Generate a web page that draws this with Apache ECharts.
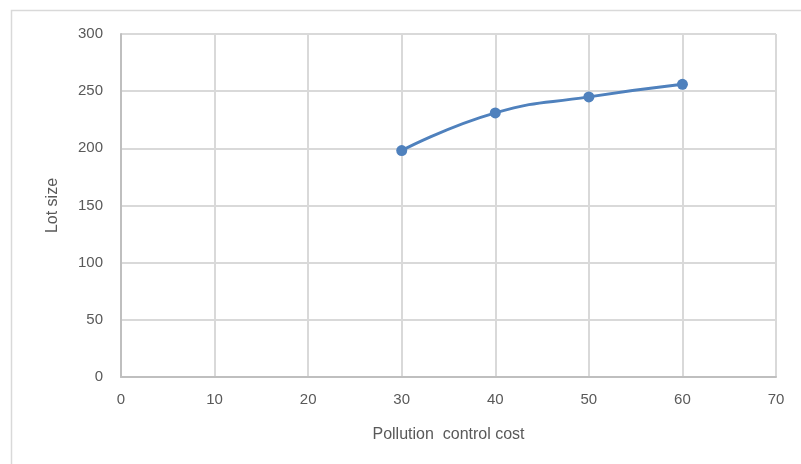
<!DOCTYPE html>
<html>
<head>
<meta charset="utf-8">
<script src="https://cdn.jsdelivr.net/npm/echarts@6/dist/echarts.min.js"></script>
<style>
  html, body { margin: 0; padding: 0; background: #fff; }
  #chart { width: 801px; height: 464px; }
</style>
</head>
<body>
<div id="chart"></div>
<script>
// Pollution control cost vs. lot size
const costs = [30, 40, 50, 60];
const lotSizes = [198, 231, 245, 256];
const xTicks = [0, 10, 20, 30, 40, 50, 60, 70];
const yTicks = [0, 50, 100, 150, 200, 250, 300];

const chart = echarts.init(document.getElementById('chart'), null, { renderer: 'canvas' });
const font = 'Liberation Sans, Arial, sans-serif';

chart.setOption({
  animation: false,
  backgroundColor: '#fff',
  graphic: [{
    type: 'rect',
    shape: { x: 11.5, y: 10.5, width: 800, height: 470 },
    style: { fill: 'none', stroke: '#d9d9d9', lineWidth: 1.5 },
    silent: true
  }],
  grid: { left: 121, top: 34, right: 25, bottom: 87 },
  xAxis: {
    type: 'value',
    min: xTicks[0],
    max: xTicks[xTicks.length - 1],
    interval: 10,
    name: 'Pollution  control cost',
    nameLocation: 'middle',
    nameGap: 50,
    nameTextStyle: { color: '#595959', fontSize: 16, fontFamily: font },
    axisLine: { show: true, lineStyle: { color: '#bfbfbf', width: 2 } },
    axisTick: { show: false },
    axisLabel: { color: '#595959', fontSize: 15, fontFamily: font, margin: 15 },
    splitLine: { show: true, lineStyle: { color: '#d9d9d9', width: 2 } }
  },
  yAxis: {
    type: 'value',
    min: yTicks[0],
    max: yTicks[yTicks.length - 1],
    interval: 50,
    name: 'Lot size',
    nameLocation: 'middle',
    nameGap: 60,
    nameRotate: 90,
    nameTextStyle: { color: '#595959', fontSize: 16, fontFamily: font },
    axisLine: { show: true, lineStyle: { color: '#bfbfbf', width: 2 } },
    axisTick: { show: false },
    axisLabel: { color: '#595959', fontSize: 15, fontFamily: font, margin: 18 },
    splitLine: { show: true, lineStyle: { color: '#d9d9d9', width: 2 } }
  },
  series: [{
    type: 'line',
    smooth: true,
    data: costs.map((c, i) => [c, lotSizes[i]]),
    symbol: 'circle',
    symbolSize: 11,
    lineStyle: { color: '#4f81bd', width: 3 },
    itemStyle: { color: '#4f81bd' }
  }]
});
</script>
</body>
</html>
